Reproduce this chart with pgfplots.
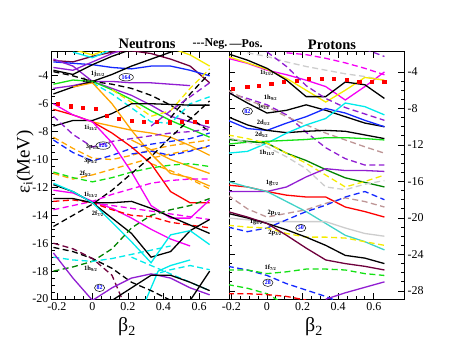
\documentclass[border=0pt]{standalone}
\usepackage{fontspec}
\setmainfont{Liberation Serif}
\usepackage{pgfplots}
\pgfplotsset{compat=1.18}
\usetikzlibrary{shapes.geometric}

\definecolor{cMar}{RGB}{110,0,60}
\definecolor{cPur}{RGB}{145,30,210}
\definecolor{cGrn}{RGB}{20,225,20}
\definecolor{cDGr}{RGB}{0,130,0}
\definecolor{cOra}{RGB}{255,165,0}
\definecolor{cCya}{RGB}{0,235,235}
\definecolor{cTur}{RGB}{64,210,200}
\definecolor{cYel}{RGB}{245,235,0}
\definecolor{cGry}{RGB}{205,205,205}
\definecolor{cBrn}{RGB}{190,150,150}
\definecolor{cMag}{RGB}{245,0,245}
\definecolor{cBlu}{RGB}{20,40,255}
\definecolor{cRed}{RGB}{255,0,0}

\pgfplotsset{
  panel/.style={
    scale only axis, height=247pt,
    xtick={-0.2,0,0.2,0.4,0.6}, xticklabels={-0.2,0,0.2,0.4,0.6},
    minor x tick num=3, minor y tick num=3,
    tick align=inside, xtick pos=both, xticklabel pos=lower,
    major tick length=6pt, minor tick length=3pt,
    every tick/.style={black, line width=0.8pt},
    axis line style={line width=1pt},
    tick label style={font=\fontsize{12}{12}\selectfont},
    every axis plot/.append style={line width=1.3pt, mark=none},
  },
  nd/.style={dash pattern=on 6pt off 3.5pt},
  dots/.style={only marks, mark=square*, mark size=1.5pt, color=cRed, draw=none},
}
\newcommand{\orb}[2]{\fontsize{6.5}{7}\selectfont\bfseries #1\textsubscript{#2}}
\tikzset{mag/.style={draw, ellipse, inner sep=0.6pt, text=blue, font=\fontsize{6}{6}\selectfont\bfseries, line width=0.5pt}}

\begin{document}
\begin{tikzpicture}
\useasboundingbox (-52pt,-54pt) rectangle (405pt,299pt);

\begin{axis}[panel, name=L, at={(0,0)}, anchor=south west, width=177pt,
  xmin=-0.228, xmax=0.769, ymin=-20, ymax=-2.29,
  ytick={-20,-18,...,-4}, yticklabels={-20,-18,-16,-14,-12,-10,-8,-6,-4},
  ytick pos=left]
% upper levels
\addplot[cMar] coordinates {(-0.22,-2.9)(-0.11,-3.0)(0,-2.6)(0.11,-2.3)(0.22,-2.2)(0.33,-2.4)(0.44,-2.8)(0.55,-3.3)(0.66,-4.5)};
\addplot[cBlu] coordinates {(-0.22,-3.0)(-0.11,-3.1)(0,-3.2)(0.11,-3.4)(0.22,-3.5)(0.33,-3.3)(0.44,-3.3)(0.55,-3.6)(0.66,-4.0)};
\addplot[cPur] coordinates {(-0.22,-3.4)(-0.11,-3.6)(0,-3.0)(0.11,-2.4)(0.22,-1.9)};
\addplot[cPur] coordinates {(-0.22,-4.9)(-0.11,-4.7)(0,-4.4)(0.11,-4.4)(0.22,-4.5)(0.33,-4.5)(0.44,-4.6)(0.55,-4.7)};
\addplot[cPur] coordinates {(-0.22,-2.8)(-0.11,-3.3)(0,-4.4)(0.11,-4.9)(0.22,-5.4)(0.33,-6.1)(0.44,-6.9)(0.55,-7.3)(0.66,-7.7)};
\addplot[cYel] coordinates {(-0.11,-2.1)(0,-2.5)(0.11,-2.0)};
\addplot[cCya] coordinates {(-0.11,-2.3)(0,-2.7)(0.11,-2.1)};
\addplot[cYel] coordinates {(0.44,-2.0)(0.55,-2.5)(0.66,-3.3)};
\addplot[black] coordinates {(-0.22,-5.3)(-0.11,-4.8)(0,-4.4)(0.11,-3.9)(0.22,-3.3)(0.33,-2.8)(0.44,-2.3)(0.55,-1.9)};
\addplot[black] coordinates {(-0.22,-3.6)(-0.11,-3.9)(0,-3.2)(0.11,-2.6)(0.22,-2.1)};
\addplot[black,nd] coordinates {(-0.22,-3.7)(-0.11,-4.0)(0,-4.4)(0.11,-4.6)(0.22,-4.9)(0.33,-5.4)(0.44,-6.1)(0.55,-7.0)(0.66,-8.0)};
\addplot[black,nd] coordinates {(0.44,-7.0)(0.55,-5.3)(0.66,-3.8)};
\addplot[cGrn] coordinates {(-0.22,-4.6)(-0.11,-4.3)(0,-4.4)(0.11,-5.0)(0.22,-5.7)(0.33,-6.5)(0.44,-7.2)(0.55,-7.8)(0.66,-8.4)};
\addplot[cYel,nd] coordinates {(0.11,-5.0)(0.22,-5.9)(0.33,-6.9)(0.44,-6.5)(0.55,-4.9)(0.66,-3.5)};
\addplot[cCya,nd] coordinates {(0,-4.5)(0.11,-5.3)(0.22,-6.3)(0.33,-7.3)(0.44,-7.4)(0.55,-6.0)(0.66,-5.5)};
\addplot[cPur,nd] coordinates {(0.33,-7.6)(0.44,-6.5)(0.55,-5.5)(0.66,-4.5)};
\addplot[black] coordinates {(-0.22,-7.6)(-0.11,-7.2)(0,-7.2)(0.11,-6.7)(0.22,-6.0)(0.33,-6.0)(0.44,-6.05)(0.55,-6.1)(0.66,-6.1)};
% middle levels
\addplot[cOra] coordinates {(-0.11,-4.8)(0,-4.5)(0.11,-6.0)(0.22,-7.9)(0.33,-9.6)(0.44,-11.0)(0.55,-11.3)(0.66,-11.9)};
\addplot[cOra] coordinates {(0,-7.3)(0.11,-7.6)(0.22,-7.9)(0.33,-8.1)(0.44,-8.4)(0.55,-9.0)(0.66,-9.7)};
\addplot[cOra] coordinates {(0.22,-8.6)(0.33,-9.3)(0.44,-10.0)(0.55,-10.5)(0.66,-11.0)};
\addplot[cOra,nd] coordinates {(-0.22,-8.4)(-0.11,-9.2)(0,-9.9)(0.11,-10.0)(0.22,-9.7)(0.33,-9.3)(0.44,-9.0)(0.55,-8.8)(0.66,-8.6)};
\addplot[cOra,nd] coordinates {(-0.22,-11.0)(-0.11,-11.4)(0,-11.1)(0.11,-10.7)(0.22,-10.3)(0.33,-9.9)(0.44,-9.6)(0.55,-9.3)(0.66,-9.1)};
\addplot[cOra,nd] coordinates {(0.33,-10.3)(0.44,-10.8)(0.55,-11.4)(0.66,-12.1)};
\addplot[cPur,nd] coordinates {(-0.22,-6.9)(-0.11,-8.2)(0,-9.1)(0.11,-8.7)(0.22,-8.5)(0.33,-8.3)(0.44,-8.1)(0.55,-8.0)(0.66,-7.8)};
\addplot[cBlu,nd] coordinates {(-0.22,-8.6)(-0.11,-9.5)(0,-10.1)(0.11,-9.7)(0.22,-9.2)(0.33,-8.9)(0.44,-8.7)(0.55,-8.5)(0.66,-8.1)};
\addplot[cBlu,nd] coordinates {(0.22,-9.6)(0.33,-9.4)(0.44,-9.7)(0.55,-9.4)(0.66,-9.0)};
\addplot[cRed] coordinates {(-0.22,-6.4)(-0.11,-6.8)(0,-7.3)(0.11,-8.1)(0.22,-9.1)(0.33,-10.3)(0.44,-12.3)(0.55,-13.1)(0.66,-13.1)};
\addplot[cMag] coordinates {(-0.22,-6.0)(-0.11,-6.8)(0,-7.3)(0.11,-8.8)(0.22,-10.9)(0.33,-13.3)(0.44,-14.2)(0.55,-14.2)(0.66,-12.9)};
\addplot[cGrn,nd] coordinates {(-0.22,-10.9)(-0.11,-11.3)(0,-11.6)(0.11,-11.3)(0.22,-10.9)(0.33,-10.6)(0.44,-10.4)(0.55,-10.3)(0.66,-10.5)};
\addplot[black,nd] coordinates {(-0.22,-14.8)(-0.11,-14.0)(0,-13.2)(0.11,-12.2)(0.22,-11.0)(0.33,-9.8)(0.44,-8.4)(0.55,-7.1)(0.66,-5.8)};
% lower levels
\addplot[cMag] coordinates {(-0.22,-12.2)(-0.11,-12.4)(0,-13.0)(0.11,-13.5)(0.22,-14.2)(0.33,-15.0)(0.44,-15.7)(0.55,-16.2)};
\addplot[cMag,nd] coordinates {(-0.22,-13.6)(-0.11,-13.3)(0,-13.0)(0.11,-12.5)(0.22,-12.1)(0.33,-11.7)(0.44,-11.5)(0.55,-11.4)(0.66,-11.4)};
\addplot[cMag,nd] coordinates {(0,-13.1)(0.11,-13.3)(0.22,-13.5)(0.33,-13.7)(0.44,-13.9)(0.55,-14.1)(0.66,-14.3)};
\addplot[cRed,nd] coordinates {(-0.22,-13.0)(-0.11,-12.9)(0,-13.1)(0.11,-13.6)(0.22,-14.0)(0.33,-14.1)(0.44,-14.5)(0.55,-14.7)(0.66,-14.9)};
\addplot[black] coordinates {(-0.22,-12.8)(-0.11,-12.8)(0,-13.1)(0.11,-13.1)(0.22,-13.0)(0.33,-13.5)(0.44,-14.1)(0.55,-14.7)(0.66,-15.3)};
\addplot[black] coordinates {(-0.22,-11.8)(-0.11,-12.3)(0,-13.1)(0.11,-14.2)(0.22,-15.3)(0.33,-17.0)(0.44,-16.6)(0.55,-15.1)(0.66,-14.3)};
\addplot[cCya] coordinates {(-0.22,-11.7)(-0.11,-12.3)(0,-13.1)(0.11,-14.5)(0.22,-15.9)(0.33,-17.4)(0.44,-15.4)(0.55,-15.1)(0.66,-16.1)};
\addplot[cDGr,nd] coordinates {(-0.22,-18.0)(-0.11,-17.7)(0,-17.3)(0.11,-16.4)(0.22,-14.9)(0.33,-14.0)(0.44,-13.6)(0.55,-13.3)(0.66,-12.8)};
\addplot[cCya,nd] coordinates {(-0.22,-17.0)(-0.11,-17.2)(0,-17.3)(0.11,-17.1)(0.22,-16.8)(0.33,-16.5)(0.44,-16.2)};
\addplot[cCya,nd] coordinates {(0.22,-17.0)(0.33,-17.6)(0.44,-18.2)(0.55,-18.8)(0.66,-19.4)};
\addplot[cCya,nd] coordinates {(0.33,-18.3)(0.44,-17.9)(0.55,-17.6)(0.66,-17.9)};
\addplot[cCya] coordinates {(0.30,-20.1)(0.37,-18.0)(0.44,-17.6)(0.55,-17.2)};
\addplot[black,nd] coordinates {(-0.22,-16.3)(-0.11,-16.6)(0,-17.1)(0.11,-17.8)(0.22,-18.8)(0.33,-19.4)(0.44,-20.1)};
\addplot[cMar,nd] coordinates {(-0.22,-16.0)(-0.11,-16.4)(0,-17.1)(0.11,-18.3)(0.17,-20.1)};
\addplot[cPur] coordinates {(-0.22,-16.7)(-0.11,-18.5)(0,-20.1)};
\addplot[cPur] coordinates {(0,-20.1)(0.11,-19.2)(0.22,-18.5)(0.33,-18.2)(0.44,-18.5)(0.55,-19.2)(0.66,-19.7)};
\addplot[black] coordinates {(0.11,-20.1)(0.22,-19.2)(0.33,-18.3)(0.44,-18.3)(0.55,-18.8)(0.66,-19.4)};
\addplot[black] coordinates {(0.55,-20.1)(0.66,-18.0)};
% Fermi level
\addplot[dots] coordinates {(-0.194,-6.0)(-0.121,-6.2)(-0.054,-6.3)(0.02,-6.4)(0.082,-6.9)(0.149,-7.1)(0.222,-7.25)(0.29,-7.3)(0.363,-7.3)(0.437,-7.35)(0.505,-7.3)(0.578,-7.3)(0.645,-7.3)};
% labels
\node at (axis cs:0.03,-3.85) {\orb{1j}{15/2}};
\node at (axis cs:-0.02,-4.35) {\orb{2g}{9/2}};
\node at (axis cs:-0.01,-7.7) {\orb{1i}{11/2}};
\node at (axis cs:0.0,-9.1) {\orb{3p}{1/2}};
\node at (axis cs:-0.01,-10.1) {\orb{3p}{3/2}};
\node at (axis cs:-0.04,-11.0) {\orb{2f}{5/2}};
\node at (axis cs:-0.01,-12.55) {\orb{1i}{13/2}};
\node at (axis cs:0.03,-13.9) {\orb{2f}{7/2}};
\node at (axis cs:-0.01,-17.85) {\orb{1h}{9/2}};
\node[mag] at (axis cs:0.19,-4.1) {164};
\node[mag] at (axis cs:0.06,-9.0) {126};
\node[mag] at (axis cs:0.04,-19.2) {82};
\end{axis}

\begin{axis}[panel, name=R, at={(L.south east)}, anchor=south west, width=175pt,
  xmin=-0.2135, xmax=0.77, ymin=-28.88, ymax=-1.81,
  ytick={-28,-24,...,-4}, yticklabels={-28,-24,-20,-16,-12,-8,-4},
  ytick pos=both, yticklabel pos=right]
% upper levels
\addplot[cMag,nd] coordinates {(0.11,-1.9)(0.22,-2.1)(0.33,-2.5)(0.44,-3.0)(0.55,-3.6)(0.66,-4.3)};
\addplot[cGry,nd] coordinates {(-0.11,-1.9)(0,-2.3)(0.11,-2.9)(0.22,-3.4)(0.33,-3.8)(0.44,-4.2)(0.55,-4.5)(0.66,-4.9)};
\addplot[cPur,nd] coordinates {(0.55,-1.5)(0.66,-2.3)};
\addplot[cMag] coordinates {(-0.22,-2.5)(-0.11,-3.05)(0,-3.8)(0.11,-4.3)(0.22,-4.9)(0.33,-5.6)(0.44,-7.07)(0.55,-5.6)(0.66,-4.0)};
\addplot[cYel] coordinates {(-0.22,-2.3)(-0.11,-3.0)(0,-3.7)(0.11,-4.7)(0.22,-6.0)(0.33,-7.3)(0.44,-6.0)(0.55,-4.6)(0.66,-4.9)};
\addplot[black] coordinates {(-0.22,-2.0)(-0.11,-2.7)(0,-3.6)(0.11,-4.9)(0.22,-6.7)(0.33,-6.7)(0.44,-5.1)(0.55,-5.4)(0.66,-6.9)};
\addplot[cPur,nd] coordinates {(0,-1.8)(0.11,-3.4)(0.22,-5.5)(0.33,-6.9)(0.44,-7.9)(0.55,-8.6)(0.66,-9.3)};
\addplot[cPur,nd] coordinates {(-0.22,-6.3)(-0.11,-6.9)(0,-7.6)(0.11,-8.7)(0.22,-10.6)(0.33,-12.3)(0.44,-13.5)(0.55,-14.2)(0.66,-14.2)};
\addplot[cBrn,nd] coordinates {(-0.22,-6.0)(-0.11,-7.1)(0,-7.8)(0.11,-8.9)(0.22,-9.8)(0.33,-10.7)(0.44,-11.45)(0.55,-12.2)(0.66,-12.9)};
\addplot[black] coordinates {(-0.22,-6.2)(-0.11,-7.4)(0,-8.5)(0.11,-8.2)(0.22,-7.6)(0.33,-8.2)(0.44,-8.9)(0.55,-9.6)(0.66,-10.0)};
\addplot[cBlu] coordinates {(-0.22,-9.3)(-0.11,-10.2)(0,-10.4)(0.11,-9.6)(0.22,-8.9)(0.33,-8.0)(0.44,-8.5)(0.55,-9.3)(0.66,-10.0)};
\addplot[black] coordinates {(-0.22,-8.9)(-0.11,-9.8)(0,-10.4)(0.11,-10.65)(0.22,-10.5)(0.33,-10.4)(0.44,-10.5)(0.55,-10.9)(0.66,-11.3)};
\addplot[cCya] coordinates {(-0.22,-12.9)(-0.11,-12.7)(0,-11.8)(0.11,-10.7)(0.22,-9.8)(0.33,-9.1)(0.44,-7.4)(0.55,-7.8)(0.66,-8.7)};
\addplot[cGrn] coordinates {(-0.22,-11.9)(-0.11,-11.7)(0,-11.6)(0.11,-11.5)(0.22,-11.4)(0.33,-11.2)(0.44,-11.2)(0.55,-11.3)(0.66,-11.45)};
\addplot[cDGr] coordinates {(-0.22,-11.4)(-0.11,-11.6)(0,-11.8)(0.11,-12.9)(0.22,-13.7)(0.33,-14.7)(0.44,-15.6)(0.55,-16.1)(0.66,-16.6)};
\addplot[cYel,nd] coordinates {(-0.22,-10.9)(-0.11,-11.3)(0,-11.8)(0.11,-12.9)(0.22,-14.0)(0.33,-15.3)(0.44,-16.6)(0.55,-16.0)(0.66,-15.3)};
\addplot[cGry,nd] coordinates {(-0.22,-11.2)(-0.11,-11.7)(0,-12.2)(0.11,-13.3)(0.22,-14.6)(0.33,-16.6)(0.44,-16.9)(0.55,-16.3)(0.66,-15.9)};
% lower levels
\addplot[cPur] coordinates {(-0.22,-17.1)(-0.11,-17.1)(0,-17.1)(0.11,-16.6)(0.22,-15.5)(0.33,-14.6)(0.44,-14.8)(0.55,-14.8)(0.66,-14.9)};
\addplot[cRed] coordinates {(-0.22,-16.4)(-0.11,-16.6)(0,-17.1)(0.11,-17.5)(0.22,-17.7)(0.33,-17.7)(0.44,-18.8)(0.55,-19.3)(0.66,-19.9)};
\addplot[cTur] coordinates {(-0.22,-16.0)(-0.11,-16.6)(0,-17.1)(0.11,-18.2)(0.22,-19.3)(0.33,-20.6)(0.44,-21.9)(0.55,-22.6)(0.66,-23.5)};
\addplot[cBrn,nd] coordinates {(-0.22,-17.5)(-0.11,-19.0)(0,-19.9)(0.11,-19.5)(0.22,-19.1)(0.33,-18.4)(0.44,-17.8)(0.55,-18.2)(0.66,-18.8)};
\addplot[cGry] coordinates {(-0.22,-20.0)(0,-20.4)(0.33,-20.4)(0.44,-21.1)(0.55,-21.7)(0.66,-22.0)};
\addplot[cBlu,nd] coordinates {(-0.22,-21.0)(-0.11,-21.5)(0,-21.1)(0.11,-20.2)(0.22,-19.3)(0.33,-18.6)(0.44,-17.7)(0.55,-17.1)(0.66,-18.0)};
\addplot[cYel,nd] coordinates {(-0.22,-20.8)(-0.11,-21.0)(0,-21.1)(0.11,-21.7)(0.22,-22.1)(0.33,-22.1)(0.44,-22.2)(0.55,-22.6)(0.66,-23.0)};
\addplot[black] coordinates {(-0.22,-19.5)(-0.11,-20.0)(0,-20.6)(0.11,-21.3)(0.22,-22.1)(0.33,-23.0)(0.44,-24.1)(0.55,-24.4)(0.66,-25.0)};
\addplot[cMar] coordinates {(-0.22,-19.3)(-0.11,-19.9)(0,-20.6)(0.11,-21.9)(0.22,-23.3)(0.33,-24.6)(0.44,-25.0)(0.55,-25.3)(0.66,-25.7)};
\addplot[cBlu,nd] coordinates {(-0.22,-25.3)(-0.11,-25.7)(0,-26.3)(0.11,-27.2)(0.22,-27.9)(0.33,-28.6)(0.38,-29.0)};
\addplot[cGrn,nd] coordinates {(-0.22,-25.7)(-0.11,-25.7)(0,-26.1)(0.11,-25.9)(0.22,-25.6)(0.33,-25.6)(0.44,-25.7)(0.55,-26.1)(0.66,-26.3)};
\addplot[cGrn,nd] coordinates {(-0.22,-27.3)(-0.11,-27.7)(0,-28.3)(0.06,-29.0)};
\addplot[cRed,nd] coordinates {(-0.22,-28.3)(-0.11,-28.3)(0,-28.4)(0.11,-28.6)(0.22,-29.0)};
\addplot[cPur] coordinates {(0.33,-28.9)(0.44,-28.2)(0.55,-27.6)(0.66,-27.0)};
% Fermi level
\addplot[dots] coordinates {(-0.19,-5.85)(-0.11,-5.65)(-0.045,-5.5)(0.025,-5.3)(0.096,-5.1)(0.169,-5.0)(0.236,-4.8)(0.31,-4.8)(0.376,-4.8)(0.45,-4.9)(0.52,-5.1)(0.59,-5.1)(0.66,-5.1)};
% labels
\node at (axis cs:0.0,-4.1) {\orb{1i}{13/2}};
\node at (axis cs:0.02,-6.85) {\orb{1h}{9/2}};
\node at (axis cs:-0.02,-7.8) {\orb{3s}{1/2}};
\node at (axis cs:-0.02,-9.6) {\orb{2d}{3/2}};
\node at (axis cs:-0.03,-10.9) {\orb{2d}{5/2}};
\node at (axis cs:0.0,-12.8) {\orb{1h}{11/2}};
\node at (axis cs:0.03,-16.2) {\orb{1g}{7/2}};
\node at (axis cs:0.04,-19.5) {\orb{2p}{1/2}};
\node at (axis cs:-0.06,-20.5) {\orb{1g}{9/2}};
\node at (axis cs:0.045,-21.6) {\orb{2p}{3/2}};
\node at (axis cs:0.02,-25.4) {\orb{1f}{7/2}};
\node[mag] at (axis cs:-0.11,-8.3) {82};
\node[mag] at (axis cs:0.19,-21.1) {50};
\node[mag] at (axis cs:0.005,-27.1) {28};
\end{axis}

% titles and axis labels
\node[font=\fontsize{14.5}{15}\selectfont\bfseries] at (95pt,255pt) {Neutrons};
\node[font=\fontsize{12}{12}\selectfont\bfseries] at (158pt,255pt) {-{}-{}-Neg.};
\node[font=\fontsize{12}{12}\selectfont\bfseries] at (194pt,255pt) {---Pos.};
\node[font=\fontsize{14.5}{15}\selectfont\bfseries] at (280pt,254pt) {Protons};
\node[rotate=90, font=\fontsize{19}{19}\selectfont] at (-27pt,137pt) {ε\textsubscript{i}(MeV)};
\node[font=\fontsize{20}{20}\selectfont] at (75pt,-28pt) {β\textsubscript{2}};
\node[font=\fontsize{20}{20}\selectfont] at (262pt,-28pt) {β\textsubscript{2}};
\end{tikzpicture}
\end{document}
